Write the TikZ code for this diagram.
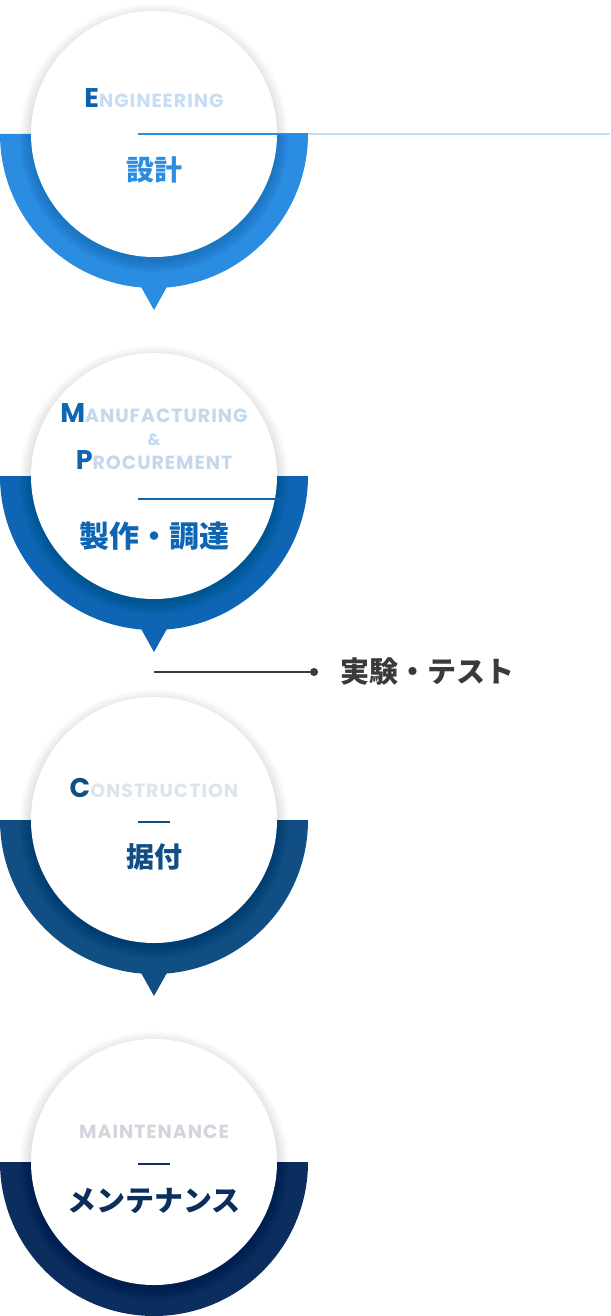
\documentclass[tikz,border=0pt]{standalone}
\usepackage{fontspec}
\setmainfont{Poppins}
\newfontfamily\jp{Noto Sans CJK JP}
\usetikzlibrary{positioning}
\definecolor{engc}{HTML}{2B8DE1}
\definecolor{engl}{HTML}{C6DDF4}
\definecolor{engh}{HTML}{0D62B0}
\definecolor{manc}{HTML}{0D65B3}
\definecolor{manl}{HTML}{C3D8EC}
\definecolor{conc}{HTML}{104E84}
\definecolor{conl}{HTML}{DCE4EC}
\definecolor{mntc}{HTML}{0B2E5E}
\definecolor{mntl}{HTML}{D2D5DC}
\definecolor{txtc}{HTML}{3A3A3A}
\newcommand\sthead[4]{{\color{#1}\fontsize{27}{27}\selectfont #2}{\color{#3}\fontsize{19}{19}\selectfont #4}}
\tikzset{
  disc/.style={circle, fill=white, minimum size=246pt, inner sep=0pt},
  head/.style={font=\bfseries\addfontfeatures{LetterSpace=5}, anchor=base, inner sep=0pt},
  jptext/.style={font=\jp\bfseries\fontsize{28}{28}\selectfont, inner sep=0pt},
}
\begin{document}
\begin{tikzpicture}[x=1pt, y=-1pt, line cap=butt]
\def\cx{154} \def\R{154} \def\r{123}
\useasboundingbox (0,0) rectangle (610,1316);
\fill[white] (0,0) rectangle (610,1316);
% ring halves
\fill[engc] (0,134) -- (308,134) arc (0:180:\R) -- cycle;
\fill[engc] (140,285) -- (168,285) -- (\cx,310) -- cycle;
\fill[manc] (0,476) -- (308,476) arc (0:180:\R) -- cycle;
\fill[manc] (140,627) -- (168,627) -- (\cx,652) -- cycle;
\fill[conc] (0,820) -- (308,820) arc (0:180:\R) -- cycle;
\fill[conc] (140,971) -- (168,971) -- (\cx,996) -- cycle;
\fill[mntc] (0,1162) -- (308,1162) arc (0:180:\R) -- cycle;
% shadows
\foreach \y in {134,476,820,1162}
  \foreach \k in {1,...,16}
    \fill[black, opacity=0.006] (\cx,\y+4) circle (\r-1+\k*0.8);
% white discs
\node[disc] (eng) at (\cx,134) {};
\node[disc] (mfg) at (\cx,476) {};
\node[disc] (con) at (\cx,820) {};
\node[disc] (mnt) at (\cx,1162) {};
% engineering
\node[head] (engt) at (\cx,108) {\sthead{engh}{E}{engl}{NGINEERING}};
\coordinate (e1) at (138,134);
\coordinate (e2) at (308,134);
\coordinate (e3) at (610,134);
\draw[engc, line width=1.5pt] (e1) -- (e2);
\draw[engl, line width=1.5pt] (e2) -- (e3);
\node[jptext, text=engc] (engj) at (\cx,170) {設計};
% manufacturing & procurement
\node[head] (mfgt) at (\cx,422) {\sthead{manc}{M}{manl}{ANUFACTURING}};
\node[head, text=manl, font=\bfseries\fontsize{16}{16}\selectfont] (amp) at (\cx,445) {\&};
\node[head] (prct) at (\cx,469) {\sthead{manc}{P}{manl}{ROCUREMENT}};
\coordinate (m1) at (138,499);
\coordinate (m2) at (283,499);
\draw[manc, line width=1.5pt] (m1) -- (m2);
\node[jptext, text=manc, font=\jp\bfseries\fontsize{30}{30}\selectfont] (mfgj) at (\cx,536) {製作・調達};
% test
\coordinate (t1) at (\cx,672);
\node[circle, fill=txtc, minimum size=8pt, inner sep=0pt] (dot) at (314,672) {};
\draw[txtc, line width=1.5pt] (t1) -- (dot);
\node[jptext, text=txtc, anchor=west, font=\jp\bfseries\fontsize{29}{29}\selectfont] (test) [right=22pt of dot] {実験・テスト};
% construction
\node[head] (cont) at (\cx,797) {\sthead{conc}{C}{conl}{ONSTRUCTION}};
\coordinate (c1) at (138,822);
\coordinate (c2) at (170,822);
\draw[conc, line width=1.5pt] (c1) -- (c2);
\node[jptext, text=conc] (conj) at (\cx,857) {据付};
% maintenance
\node[head, text=mntl, font=\bfseries\addfontfeatures{LetterSpace=5}\fontsize{19}{19}\selectfont] (mntt) at (\cx,1138) {MAINTENANCE};
\coordinate (n1) at (138,1164);
\coordinate (n2) at (170,1164);
\draw[mntc, line width=1.5pt] (n1) -- (n2);
\node[jptext, text=mntc, font=\jp\bfseries\fontsize{29}{29}\selectfont] (mntj) at (\cx,1201) {メンテナンス};
\end{tikzpicture}
\end{document}
